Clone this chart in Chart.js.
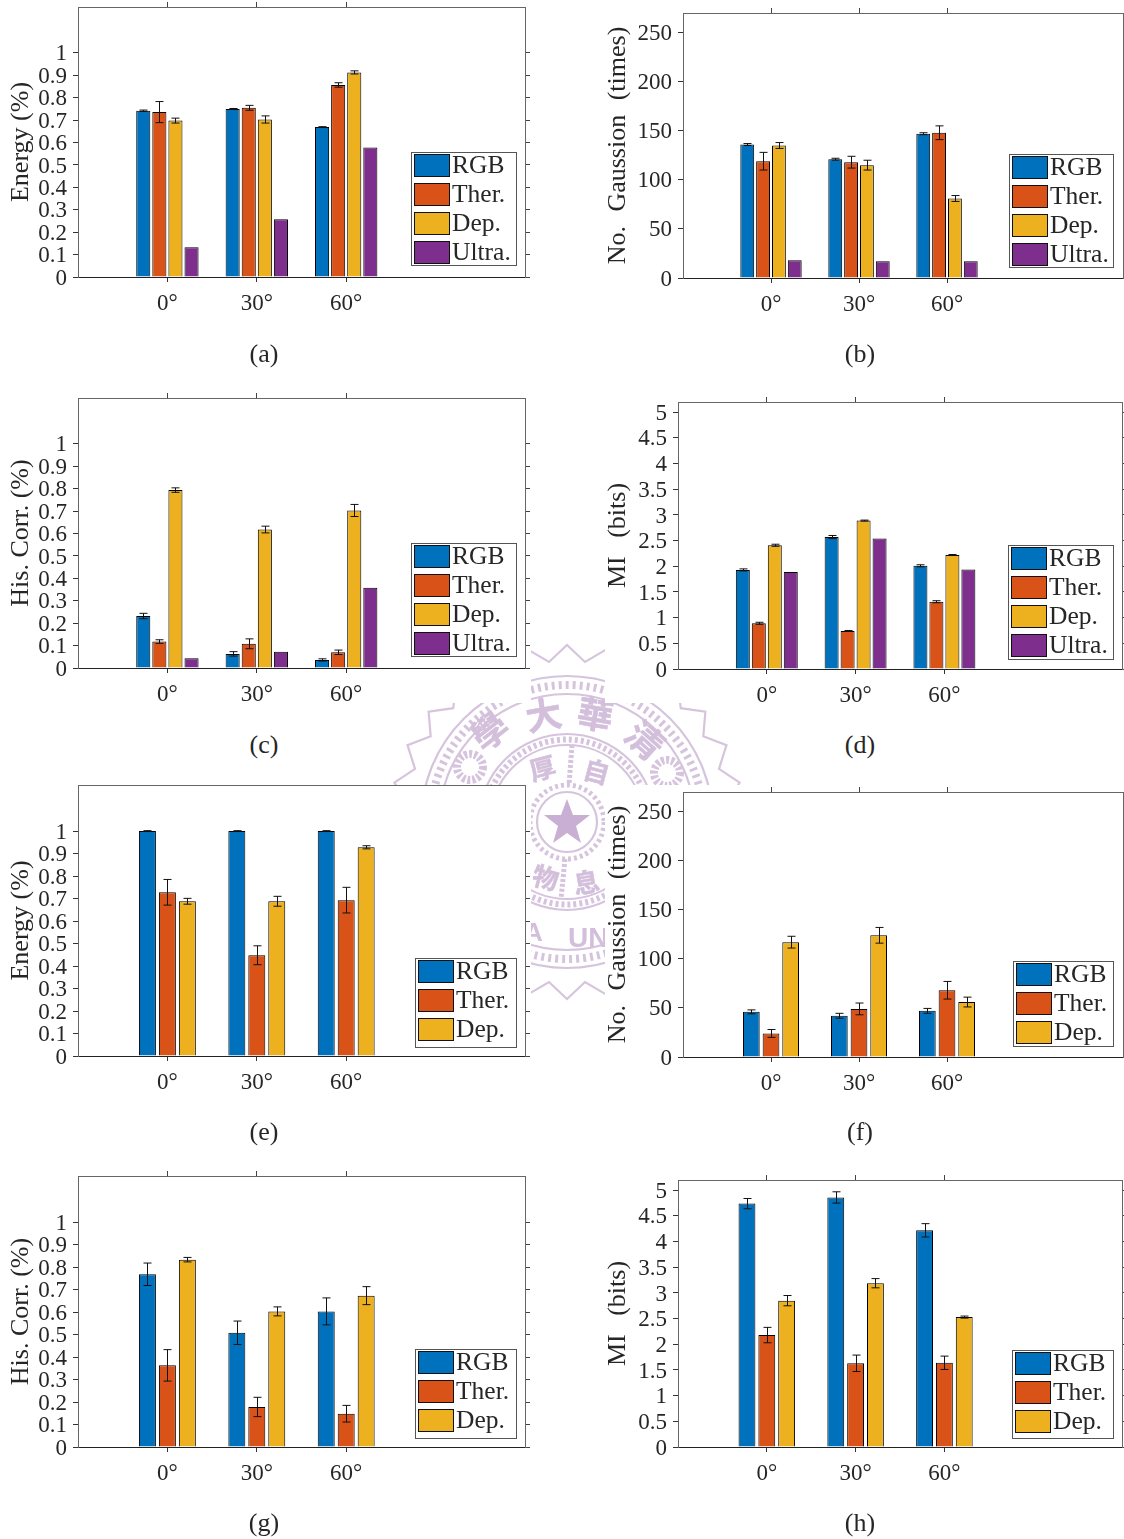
<!DOCTYPE html>
<html>
<head>
<meta charset="utf-8">
<title>Bar charts</title>
<script src="https://cdn.jsdelivr.net/npm/chart.js@4/dist/chart.umd.min.js"></script>
<style>
html, body { margin: 0; padding: 0; background: #fff; }
#page { position: relative; width: 1124px; height: 1539px; overflow: hidden; background: #fff; }
#page canvas { position: absolute; background: #fff; z-index: 1; filter: blur(0.3px); }
#seal { position: absolute; left: 0; top: 0; z-index: 0; filter: blur(0.6px); }
.caption { position: absolute; z-index: 2; font: 26px "Liberation Serif", serif; color: #262626; transform: translate(-50%, -50%); }
</style>
</head>
<body>
<div id="page">
<svg id="seal" width="1124" height="1539" fill="none" stroke="#d6c4de">
  <polygon id="zig" stroke-width="2.2"/>
  <circle cx="567" cy="822" r="128" stroke-width="2.2"/>
  <circle cx="567" cy="822" r="146" stroke-width="2.2"/>
  <circle cx="567" cy="822" r="137" stroke-width="8" stroke-dasharray="3 4"/>
  <circle cx="567" cy="822" r="77" stroke-width="2.2"/>
  <circle cx="567" cy="822" r="88" stroke-width="2.2"/>
  <circle cx="567" cy="822" r="82.5" stroke-width="6" stroke-dasharray="3 3"/>
  <circle cx="567" cy="822" r="30" stroke-width="2.2"/>
  <circle cx="567" cy="822" r="37" stroke-width="5" stroke-dasharray="3 3"/>
  <line x1="572" y1="745" x2="569" y2="785" stroke-width="5" stroke-dasharray="3 2"/>
  <line x1="565" y1="859" x2="561" y2="899" stroke-width="5" stroke-dasharray="3 2"/>
  <circle cx="470" cy="767" r="13" stroke-width="8" stroke-dasharray="3 2"/>
  <circle cx="667" cy="773" r="13" stroke-width="8" stroke-dasharray="3 2"/>
  <polygon fill="#c9afd3" stroke="none" points="567,799 573,815 590,815 576,826 581,843 567,833 553,843 558,826 544,815 561,815"/>
  <g fill="#d3bfdb" stroke="#d3bfdb" stroke-width="0.5" font-family="Noto Sans CJK TC" font-weight="700" font-size="36" text-anchor="middle">
    <text transform="translate(498 742) rotate(-38)">學</text>
    <text transform="translate(546 728) rotate(-10)">大</text>
    <text transform="translate(593 728) rotate(10)">華</text>
    <text transform="translate(636 750) rotate(42)">清</text>
    <text font-size="26" transform="translate(545 778) rotate(-15)">厚</text>
    <text font-size="26" transform="translate(594 781) rotate(15)">自</text>
    <text font-size="26" transform="translate(543 887) rotate(15)">物</text>
    <text font-size="26" transform="translate(588 892) rotate(-10)">息</text>
  </g>
  <text x="568" y="947" fill="#d3bfdb" stroke="none" font-family="Liberation Sans" font-weight="bold" font-size="28">UNI</text>
  <text x="524" y="941" fill="#d3bfdb" stroke="none" font-family="Liberation Sans" font-weight="bold" font-size="26">A</text>
</svg>
</div>
<script>
var angleLabels = ['', '0°', '30°', '60°', '', ''];
var seriesNames = ['RGB', 'Ther.', 'Dep.', 'Ultra.'];
var seriesColors = ['#0072BD', '#D95319', '#EDB120', '#7E2F8E'];
var captions = ['(a)', '(b)', '(c)', '(d)', '(e)', '(f)', '(g)', '(h)'];

var ticksUnit = [0, 0.1, 0.2, 0.3, 0.4, 0.5, 0.6, 0.7, 0.8, 0.9, 1];
var ticksCount = [0, 50, 100, 150, 200, 250];
var ticksBits = [0, 0.5, 1, 1.5, 2, 2.5, 3, 3.5, 4, 4.5, 5];

// (a)
var aRgb = [0.742, 0.75, 0.669], aRgbErr = [0.003, 0.002, 0.002];
var aTher = [0.736, 0.755, 0.857], aTherErr = [0.047, 0.011, 0.01];
var aDep = [0.698, 0.703, 0.913], aDepErr = [0.011, 0.016, 0.007];
var aUltra = [0.133, 0.258, 0.578];
// (b)
var bRgb = [136, 121, 147], bRgbErr = [1, 1, 1];
var bTher = [119, 118, 148], bTherErr = [9, 6, 7];
var bDep = [135, 115, 81], bDepErr = [3, 5, 3];
var bUltra = [18, 17, 17];
// (c)
var cRgb = [0.232, 0.063, 0.036], cRgbErr = [0.012, 0.01, 0.005];
var cTher = [0.118, 0.108, 0.07], cTherErr = [0.008, 0.022, 0.01];
var cDep = [0.794, 0.618, 0.703], cDepErr = [0.01, 0.015, 0.027];
var cUltra = [0.043, 0.073, 0.358];
// (d)
var dRgb = [1.93, 2.57, 2.01], dRgbErr = [0.02, 0.03, 0.02];
var dTher = [0.89, 0.74, 1.31], dTherErr = [0.02, 0.01, 0.02];
var dDep = [2.41, 2.89, 2.22], dDepErr = [0.02, 0.01, 0.01];
var dUltra = [1.89, 2.54, 1.94];
// (e)
var eRgb = [1, 1, 1], eRgbErr = [0.002, 0.002, 0.002];
var eTher = [0.728, 0.448, 0.693], eTherErr = [0.057, 0.042, 0.057];
var eDep = [0.688, 0.688, 0.928], eDepErr = [0.013, 0.022, 0.007];
// (f)
var fRgb = [46, 42, 47], fRgbErr = [2, 2.5, 2.5];
var fTher = [24, 49, 68], fTherErr = [4, 6, 9];
var fDep = [117, 124, 56], fDepErr = [6, 8, 5];
// (g)
var gRgb = [0.768, 0.508, 0.603], gRgbErr = [0.05, 0.052, 0.06];
var gTher = [0.363, 0.178, 0.148], gTherErr = [0.07, 0.043, 0.037];
var gDep = [0.833, 0.603, 0.673], gDepErr = [0.01, 0.02, 0.04];
// (h)
var hRgb = [4.74, 4.86, 4.22], hRgbErr = [0.1, 0.11, 0.13];
var hTher = [2.18, 1.63, 1.64], hTherErr = [0.15, 0.16, 0.13];
var hDep = [2.85, 3.19, 2.53], hDepErr = [0.1, 0.09, 0.02];

var panels = [
  {label: 'Energy (%)', gap: 0, ticks: ticksUnit, max: 1.205, series: [aRgb, aTher, aDep, aUltra], errs: [aRgbErr, aTherErr, aDepErr]},
  {label: 'No. Gaussion (times)', gap: 8, ticks: ticksCount, max: 270, series: [bRgb, bTher, bDep, bUltra], errs: [bRgbErr, bTherErr, bDepErr]},
  {label: 'His. Corr. (%)', gap: 0, ticks: ticksUnit, max: 1.205, series: [cRgb, cTher, cDep, cUltra], errs: [cRgbErr, cTherErr, cDepErr]},
  {label: 'MI (bits)', gap: 12, ticks: ticksBits, max: 5.2, series: [dRgb, dTher, dDep, dUltra], errs: [dRgbErr, dTherErr, dDepErr]},
  {label: 'Energy (%)', gap: 0, ticks: ticksUnit, max: 1.205, series: [eRgb, eTher, eDep], errs: [eRgbErr, eTherErr, eDepErr]},
  {label: 'No. Gaussion (times)', gap: 8, ticks: ticksCount, max: 270, series: [fRgb, fTher, fDep], errs: [fRgbErr, fTherErr, fDepErr]},
  {label: 'His. Corr. (%)', gap: 0, ticks: ticksUnit, max: 1.205, series: [gRgb, gTher, gDep], errs: [gRgbErr, gTherErr, gDepErr]},
  {label: 'MI (bits)', gap: 12, ticks: ticksBits, max: 5.2, series: [hRgb, hTher, hDep], errs: [hRgbErr, hTherErr, hDepErr]}
];

// canvas rect, plot rect and legend rect, in page pixels
var boxes = [
  {cx: 0, cy: 0, cw: 531, ch: 372, l: 78, r: 525, t: 7, b: 277, lx: 411, ly: 152, lw: 105, lh: 113, capX: 264, capY: 354},
  {cx: 605, cy: 0, cw: 519, ch: 372, l: 683, r: 1123, t: 13, b: 278, lx: 1009, ly: 154, lw: 104, lh: 113, capX: 860, capY: 354},
  {cx: 0, cy: 380, cw: 531, ch: 323, l: 78, r: 525, t: 398, b: 668, lx: 411, ly: 543, lw: 105, lh: 113, capX: 264, capY: 745},
  {cx: 605, cy: 380, cw: 519, ch: 323, l: 678, r: 1122, t: 402, b: 669, lx: 1008, ly: 545, lw: 105, lh: 114, capX: 860, capY: 745},
  {cx: 0, cy: 785, cw: 531, ch: 365, l: 78, r: 525, t: 785, b: 1056, lx: 415, ly: 958, lw: 101, lh: 89, capX: 264, capY: 1132},
  {cx: 605, cy: 785, cw: 519, ch: 365, l: 683, r: 1123, t: 792, b: 1057, lx: 1013, ly: 961, lw: 100, lh: 85, capX: 860, capY: 1132},
  {cx: 0, cy: 1160, cw: 531, ch: 379, l: 78, r: 525, t: 1176, b: 1447, lx: 415, ly: 1349, lw: 101, lh: 89, capX: 264, capY: 1523},
  {cx: 605, cy: 1160, cw: 519, ch: 379, l: 678, r: 1122, t: 1180, b: 1447, lx: 1012, ly: 1350, lw: 101, lh: 88, capX: 860, capY: 1523}
];

var textColor = '#262626';
var serif = '"Liberation Serif", serif';

// zigzag edge of the seal behind the figure
var pts = [];
for (var k = 0; k < 56; k++) {
  var ang = k * Math.PI / 28, rad = k % 2 ? 161 : 177;
  pts.push((567 + rad * Math.sin(ang)).toFixed(1) + ',' + (822 - rad * Math.cos(ang)).toFixed(1));
}
document.getElementById('zig').setAttribute('points', pts.join(' '));

var errorBars = {
  id: 'errorBars',
  afterDatasetsDraw: function(chart, args, opts) {
    var ctx = chart.ctx, y = chart.scales.y;
    ctx.save();
    ctx.strokeStyle = '#111';
    ctx.lineWidth = 1;
    chart.data.datasets.forEach(function(ds, i) {
      if (!ds.errs) return;
      var meta = chart.getDatasetMeta(i);
      ds.errs.forEach(function(e, j) {
        var bar = meta.data[j + 1];
        var x = Math.round(bar.x) + 0.5;
        var top = y.getPixelForValue(ds.data[j + 1] + e), bot = y.getPixelForValue(ds.data[j + 1] - e);
        ctx.beginPath();
        ctx.moveTo(x, top); ctx.lineTo(x, bot);
        ctx.moveTo(x - 4, top); ctx.lineTo(x + 4, top);
        ctx.moveTo(x - 4, bot); ctx.lineTo(x + 4, bot);
        ctx.stroke();
      });
    });
    ctx.restore();
  }
};

var boxLegend = {
  id: 'boxLegend',
  afterDraw: function(chart, args, opts) {
    var ctx = chart.ctx;
    ctx.save();
    ctx.fillStyle = '#fff';
    ctx.strokeStyle = '#555';
    ctx.lineWidth = 1;
    ctx.fillRect(opts.x, opts.y, opts.w, opts.h);
    ctx.strokeRect(opts.x + 0.5, opts.y + 0.5, opts.w, opts.h);
    ctx.font = '25.5px ' + serif;
    ctx.textBaseline = 'middle';
    chart.data.datasets.forEach(function(ds, i) {
      var rowY = opts.y + 13 + i * 29;
      ctx.fillStyle = ds.backgroundColor;
      ctx.fillRect(opts.x + 3.5, rowY - 10.5, 35, 22);
      ctx.strokeStyle = '#111';
      ctx.strokeRect(opts.x + 3.5, rowY - 10.5, 35, 22);
      ctx.fillStyle = textColor;
      ctx.fillText(ds.label, opts.x + 41, rowY + 1);
    });
    ctx.restore();
  }
};

// wider word gaps in some axis titles
var titleGap = {
  id: 'titleGap',
  beforeDraw: function(chart, args, opts) {
    chart.ctx.wordSpacing = opts.gap + 'px';
  }
};

function fixedWidth(w) {
  return function(s) { s.width = w; s.paddingTop = 0; s.paddingBottom = 0; };
}
function fixedHeight(h) {
  return function(s) { s.height = h; s.paddingLeft = 0; s.paddingRight = 0; };
}
function onlyNamed(color) {
  return function(c) { return c.tick && c.tick.label ? color : 'rgba(0,0,0,0)'; };
}

var page = document.getElementById('page');
panels.forEach(function(p, n) {
  var b = boxes[n];
  var cv = document.createElement('canvas');
  cv.width = b.cw;
  cv.height = b.ch;
  cv.style.left = b.cx + 'px';
  cv.style.top = b.cy + 'px';
  page.appendChild(cv);

  var cap = document.createElement('div');
  cap.className = 'caption';
  cap.textContent = captions[n];
  cap.style.left = b.capX + 'px';
  cap.style.top = b.capY + 'px';
  page.appendChild(cap);

  var four = p.series.length == 4;
  var fill = function(s) { return [null].concat(s, [null, null]); };
  var sets = p.series.map(function(s, i) {
    return {
      label: seriesNames[i],
      data: fill(s),
      errs: p.errs[i],
      backgroundColor: seriesColors[i],
      borderColor: '#000',
      borderWidth: 1,
      barPercentage: four ? 0.875 : 0.85,
      categoryPercentage: four ? 0.72 : 0.67
    };
  });
  var yTicks = function(s) { s.ticks = p.ticks.map(function(v) { return {value: v}; }); };

  new Chart(cv.getContext('2d'), {
    type: 'bar',
    data: {labels: angleLabels, datasets: sets},
    plugins: [titleGap, errorBars, boxLegend],
    options: {
      responsive: false,
      animation: false,
      devicePixelRatio: 1,
      layout: {autoPadding: false, padding: 0},
      plugins: {
        legend: {display: false},
        tooltip: {enabled: false},
        titleGap: {gap: p.gap},
        boxLegend: {x: b.lx - b.cx, y: b.ly - b.cy, w: b.lw, h: b.lh}
      },
      scales: {
        x: {
          position: 'bottom',
          offset: false,
          afterFit: fixedHeight(b.cy + b.ch - b.b),
          grid: {offset: false, drawOnChartArea: false, tickLength: 5, tickColor: onlyNamed('#333')},
          border: {color: '#222', width: 1},
          ticks: {autoSkip: false, maxRotation: 0, padding: 8, color: textColor, font: {family: serif, size: 23}}
        },
        x2: {
          type: 'category',
          position: 'top',
          offset: false,
          afterFit: fixedHeight(b.t - b.cy),
          grid: {offset: false, drawOnChartArea: false, tickLength: 5, tickColor: onlyNamed('#444')},
          border: {color: '#666', width: 1},
          ticks: {display: false, autoSkip: false}
        },
        y: {
          position: 'left',
          min: 0,
          max: p.max,
          afterFit: fixedWidth(b.l - b.cx),
          afterBuildTicks: yTicks,
          grid: {drawOnChartArea: false, tickLength: 5, tickColor: '#333'},
          border: {color: '#666', width: 1},
          title: {display: true, text: p.label, color: textColor, padding: {top: b.cx ? 0 : 8, bottom: 0},
                  font: {family: serif, size: 26, lineHeight: 1}},
          ticks: {autoSkip: false, padding: 6, labelOffset: 1.5, color: textColor, font: {family: serif, size: 23},
                  callback: function(v) { return String(v); }}
        },
        y2: {
          type: 'linear',
          position: 'right',
          min: 0,
          max: p.max,
          afterFit: fixedWidth(b.cx + b.cw - b.r),
          afterBuildTicks: yTicks,
          grid: {drawOnChartArea: false, tickLength: 5, tickColor: '#444'},
          border: {color: '#666', width: 1},
          ticks: {display: false, autoSkip: false}
        }
      }
    }
  });
});
</script>
</body>
</html>
